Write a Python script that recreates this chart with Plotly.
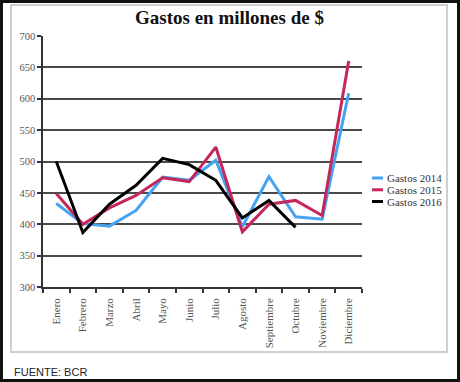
import plotly.graph_objects as go

meses = ["Enero", "Febrero", "Marzo", "Abril", "Mayo", "Junio", "Julio",
         "Agosto", "Septiembre", "Octubre", "Noviembre", "Diciembre"]
gastos_2014 = [433, 401, 397, 422, 475, 470, 502, 396, 476, 412, 408, 609]
gastos_2015 = [449, 400, 426, 446, 474, 468, 523, 388, 432, 438, 414, 660]
gastos_2016 = [500, 387, 432, 462, 505, 495, 470, 410, 438, 395]

series = [
    ("Gastos 2014", gastos_2014, "#45a3f2"),
    ("Gastos 2015", gastos_2015, "#c4285a"),
    ("Gastos 2016", gastos_2016, "#000000"),
]

W, H = 460, 382
L, R, T, B = 43, 362, 36, 287

def px(x):
    return (x - L) / (R - L)

def py(y):
    return (B - y) / (B - T)

fig = go.Figure()
for name, vals, col in series:
    fig.add_trace(go.Scatter(x=meses[:len(vals)], y=vals, mode="lines", name=name,
                             line=dict(color=col, width=3), showlegend=False))

serif = "Liberation Serif"
fig.update_layout(
    width=W, height=H,
    margin=dict(l=L, r=W - R, t=T, b=H - B),
    paper_bgcolor="white", plot_bgcolor="white",
    xaxis=dict(type="category", categoryorder="array", categoryarray=meses,
               tickson="boundaries", ticks="outside", ticklen=4, tickwidth=1.5,
               tickcolor="#333", showline=True, linecolor="#333", linewidth=1.5,
               showgrid=False, tickangle=-90, ticklabelstandoff=5,
               tickfont=dict(family=serif, size=11, color="#555"),
               range=[-0.5, 11.5]),
    yaxis=dict(range=[300, 700], dtick=50, ticks="outside", ticklen=4, tickwidth=1.5,
               tickcolor="#333", showline=True, linecolor="#333", linewidth=1.5,
               showgrid=True, gridcolor="#4a4a4a", gridwidth=1.5, zeroline=False,
               tickfont=dict(family=serif, size=10.5, color="#555")),
    showlegend=False,
)

shapes = [
    dict(type="rect", xref="paper", yref="paper", x0=px(1.5), x1=px(458.5),
         y0=py(380.5), y1=py(1.5), line=dict(color="#111", width=3), layer="below"),
    dict(type="rect", xref="paper", yref="paper", x0=px(11), x1=px(447),
         y0=py(352), y1=py(5), line=dict(color="#cfcfcf", width=2), layer="below"),
]
ann = [
    dict(text="<b>Gastos en millones de $</b>", xref="paper", yref="paper",
         x=px(230), y=py(17), xanchor="center", yanchor="middle", showarrow=False,
         font=dict(family=serif, size=19, color="#111")),
    dict(text="FUENTE: BCR", xref="paper", yref="paper", x=px(12), y=py(371.5),
         xanchor="left", yanchor="middle", showarrow=False,
         font=dict(family="Liberation Sans", size=11, color="#222")),
]
leg_y = [178, 189.8, 201.5]
for (name, vals, col), yy in zip(series, leg_y):
    shapes.append(dict(type="line", xref="paper", yref="paper", x0=px(372), x1=px(383),
                       y0=py(yy), y1=py(yy), line=dict(color=col, width=3)))
    ann.append(dict(text=name, xref="paper", yref="paper", x=px(385), y=py(yy),
                    xanchor="left", yanchor="middle", showarrow=False,
                    font=dict(family=serif, size=11, color="#333")))
fig.update_layout(shapes=shapes, annotations=ann)

fig.write_html("out.html", config={"displayModeBar": False},
               post_script="document.body.style.margin='0';document.body.style.overflow='hidden';")
